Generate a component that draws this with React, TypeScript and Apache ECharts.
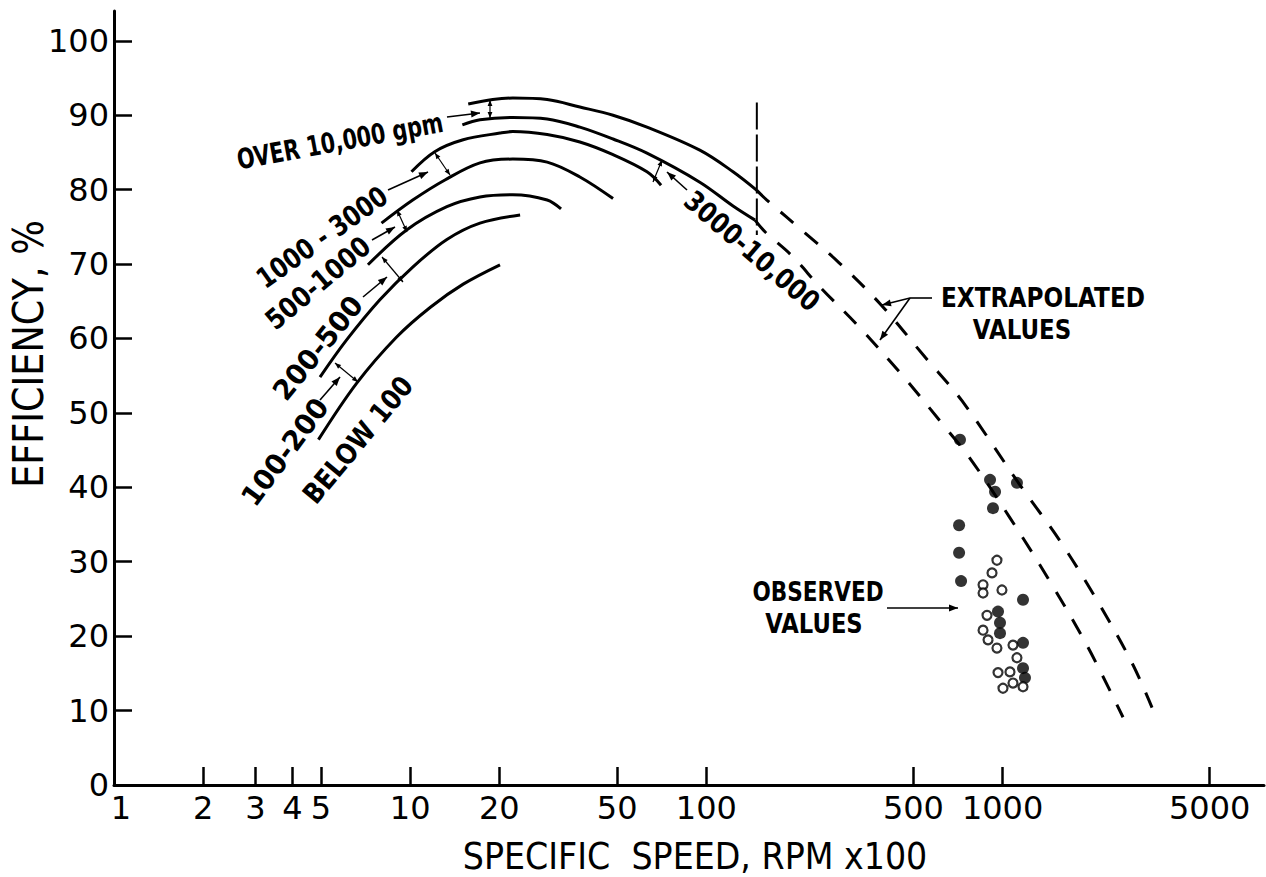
import { useEffect, useRef } from "react";
import * as echarts from "echarts";

const FONT = '"DejaVu Sans", "Liberation Sans", sans-serif';
const INK = "#000";

// Axis ticks and labels (specific speed on a log scale, efficiency in %)
const xTickValues = [2, 3, 4, 5, 10, 20, 50, 100, 500, 1000, 5000];
const xLabelValues = [1, 2, 3, 4, 5, 10, 20, 50, 100, 500, 1000, 5000];
const yTickValues = [10, 20, 30, 40, 50, 60, 70, 80, 90, 100];
const yLabelValues = [0, 10, 20, 30, 40, 50, 60, 70, 80, 90, 100];

// Efficiency curves, [specific speed, efficiency %], one per capacity class
const over10000 = [
  [15.7, 91.5], [19, 92.1], [22.2, 92.3], [29, 92.1], [37.4, 91.1],
  [48.4, 90.0], [63, 88.4], [95, 85.3], [123, 82.4], [148, 79.9],
];
const from3000to10000 = [
  [15, 88.7], [17.2, 89.4], [22.2, 89.7], [29, 89.5], [37.4, 88.4],
  [48.4, 86.8], [63, 84.9], [95, 81.0], [123, 77.8], [146, 75.9],
];
const from1000to3000 = [
  [10.1, 82.4], [12.1, 85.1], [15.1, 86.7], [20.1, 87.6], [22.2, 87.8],
  [29, 87.4], [37.4, 86.4], [48.4, 84.7], [63, 82.4], [70.3, 80.6],
];
const from500to1000 = [
  [8.0, 75.5], [10.2, 78.6], [13.1, 81.3], [17.2, 83.6], [22.2, 84.1],
  [29, 83.7], [37.4, 81.7], [48.4, 78.8],
];
const from200to500 = [
  [7.2, 69.9], [9.75, 74.6], [13.3, 77.7], [17.2, 79.0], [22.2, 79.3],
  [29, 78.6], [32.3, 77.4],
];
const from100to200 = [
  [4.96, 54.8], [6.1, 59.8], [7.9, 65.2], [10.2, 69.6], [13.3, 73.3],
  [17.2, 75.5], [23.5, 76.6],
];
const below100 = [
  [4.9, 46.4], [6.6, 54.0], [9.0, 60.2], [11.7, 64.2], [15.1, 67.3], [20.1, 69.9],
];

// Extrapolated continuations of the two largest classes
const extrapolatedUpper = [
  [148, 79.9], [160, 78.6], [215, 74.2], [280, 70.2], [389, 64.5], [547, 57.5],
  [730, 51.6], [1145, 40.3], [1562, 32.8], [2099, 24.6], [2735, 16.4], [3195, 10.4],
];
const extrapolatedLower = [
  [146, 75.9], [158, 74.3], [194.5, 71.1], [242, 66.9], [325, 61.7], [457.5, 55.1],
  [639, 48.1], [776, 43.9], [1059, 35.9], [1468, 26.9], [1942, 18.5], [2550, 9.1],
];
const dataLimit = [[148, 91.7], [148, 73.9]];

// Observed values
const observedFilled = [
  [718, 46.4], [907, 41.0], [943, 39.4], [928, 37.2], [1118, 40.6], [713, 34.9],
  [713, 31.2], [724, 27.4], [1172, 24.9], [965, 23.3], [980, 21.8], [980, 20.4],
  [1172, 19.1], [1172, 15.7], [1190, 14.4],
];
const observedOpen = [
  [957, 30.2], [921, 28.5], [859, 26.9], [995, 26.2], [859, 25.8], [886, 22.8],
  [859, 20.8], [893, 19.5], [1084, 18.8], [957, 18.4], [1118, 17.1], [965, 15.1],
  [1059, 15.2], [1172, 13.2], [1003, 13.0], [1084, 13.7],
];

function curve(name: string, data: number[][], dashed = false) {
  return {
    name,
    type: "line",
    data,
    smooth: 0.35,
    symbol: "none",
    silent: true,
    lineStyle: { color: INK, width: 3, type: dashed ? [17, 15] : "solid", cap: "butt" },
  };
}

function head(x1: number, y1: number, x2: number, y2: number, len = 9, half = 3.5) {
  const a = Math.atan2(y2 - y1, x2 - x1);
  const bx = x2 - len * Math.cos(a);
  const by = y2 - len * Math.sin(a);
  const px = -Math.sin(a) * half;
  const py = Math.cos(a) * half;
  return {
    type: "polygon",
    silent: true,
    shape: { points: [[x2, y2], [bx + px, by + py], [bx - px, by - py]] },
    style: { fill: INK },
  };
}

function leader(x1: number, y1: number, x2: number, y2: number) {
  return [
    { type: "line", silent: true, shape: { x1, y1, x2, y2 }, style: { stroke: INK, lineWidth: 1.6 } },
    head(x1, y1, x2, y2),
  ];
}

function dimension(x1: number, y1: number, x2: number, y2: number) {
  return [
    { type: "line", silent: true, shape: { x1, y1, x2, y2 }, style: { stroke: INK, lineWidth: 1.2 } },
    head(x2, y2, x1, y1, 6, 2.4),
    head(x1, y1, x2, y2, 6, 2.4),
  ];
}

function note(text: string, cx: number, cy: number, deg: number, size: number, sx: number, weight = "bold") {
  return {
    type: "text",
    silent: true,
    x: cx,
    y: cy,
    rotation: (deg * Math.PI) / 180,
    scaleX: sx,
    style: {
      text,
      x: 0,
      y: 0,
      align: "center",
      verticalAlign: "middle",
      fontSize: size,
      fontWeight: weight,
      fontFamily: FONT,
      fill: INK,
    },
  };
}

const graphics = [
  note("EFFICIENCY, %", 28, 354, 90, 42, 0.87, "normal"),
  note("SPECIFIC  SPEED, RPM x100", 695, 856, 0, 37, 0.9, "normal"),

  note("OVER 10,000 gpm", 340, 141, 10.5, 28, 0.74),
  ...leader(447, 117, 480, 113),
  ...dimension(490, 100, 490, 118),

  note("3000-10,000", 752, 251, -40.5, 28, 0.85),
  ...leader(687, 190, 667, 172),
  ...dimension(662, 160, 653, 182),

  note("1000 - 3000", 322, 237, 35.4, 28, 0.82),
  ...leader(388, 190, 428, 172),
  ...dimension(435, 153, 450, 175),

  note("500-1000", 318, 283, 40, 28, 0.86),
  ...leader(372, 240, 395, 227),
  ...dimension(397, 210, 407, 232),

  note("200-500", 318, 348, 51, 28, 0.97),
  ...leader(363, 297, 387, 277),
  ...dimension(382, 257, 403, 282),

  note("100-200", 285, 452, 53.5, 28, 0.98),
  ...leader(320, 400, 340, 377),
  ...dimension(335, 363, 358, 382),

  note("BELOW 100", 358, 440, 50.4, 28, 0.86),

  note("EXTRAPOLATED", 1043, 298, 0, 27, 0.86),
  note("VALUES", 1022, 330, 0, 27, 0.85),
  { type: "line", silent: true, shape: { x1: 932, y1: 298, x2: 910, y2: 298 }, style: { stroke: INK, lineWidth: 1.6 } },
  ...leader(910, 298, 882, 305),
  ...leader(910, 298, 880, 340),

  note("OBSERVED", 818, 592, 0, 27, 0.8),
  note("VALUES", 814, 624, 0, 27, 0.84),
  ...leader(887, 608, 958, 608),
];

const option = {
  animation: false,
  backgroundColor: "#fff",
  grid: { left: 114, right: 2, top: 11, bottom: 92, containLabel: false },
  xAxis: {
    type: "log",
    logBase: 10,
    min: 1,
    max: 7630,
    axisLine: { show: true, onZero: false, lineStyle: { color: INK, width: 3 } },
    axisTick: { show: true, inside: true, length: 18, customValues: xTickValues, lineStyle: { color: INK, width: 2.5 } },
    minorTick: { show: false },
    splitLine: { show: false },
    axisLabel: {
      customValues: xLabelValues,
      // the origin label is nudged right so it clears the "0" of the efficiency axis
      formatter: (v: number) => (Math.round(v) === 1 ? "{origin|1}" : String(Math.round(v))),
      rich: {
        origin: { fontSize: 32, fontFamily: FONT, color: INK, padding: [0, 0, 0, 14] },
      },
      color: INK,
      fontSize: 32,
      lineHeight: 24,
      fontFamily: FONT,
      margin: 11,
      hideOverlap: false,
    },
  },
  yAxis: {
    type: "value",
    min: 0,
    max: 104,
    axisLine: { show: true, lineStyle: { color: INK, width: 3 } },
    axisTick: { show: true, inside: true, length: 18, customValues: yTickValues, lineStyle: { color: INK, width: 2.5 } },
    splitLine: { show: false },
    axisLabel: {
      customValues: yLabelValues,
      color: INK,
      fontSize: 32,
      lineHeight: 22,
      fontFamily: FONT,
      margin: 5,
    },
  },
  series: [
    curve("OVER 10,000 gpm", over10000),
    curve("3000-10,000", from3000to10000),
    curve("1000-3000", from1000to3000),
    curve("500-1000", from500to1000),
    curve("200-500", from200to500),
    curve("100-200", from100to200),
    curve("BELOW 100", below100),
    curve("EXTRAPOLATED (upper)", extrapolatedUpper, true),
    curve("EXTRAPOLATED (lower)", extrapolatedLower, true),
    {
      name: "limit",
      type: "line",
      data: dataLimit,
      symbol: "none",
      silent: true,
      lineStyle: { color: INK, width: 2, type: [27, 5] },
    },
    {
      name: "OBSERVED (filled)",
      type: "scatter",
      data: observedFilled,
      symbol: "circle",
      symbolSize: 12,
      silent: true,
      itemStyle: { color: INK },
    },
    {
      name: "OBSERVED (open)",
      type: "scatter",
      data: observedOpen,
      symbol: "circle",
      symbolSize: 9,
      silent: true,
      itemStyle: { color: "#fff", borderColor: INK, borderWidth: 2.2 },
    },
  ],
  graphic: graphics,
};

export default function App() {
  const ref = useRef<HTMLDivElement>(null);
  useEffect(() => {
    if (!ref.current) return;
    const chart = echarts.init(ref.current, null, { renderer: "svg" });
    chart.setOption(option as any);
    return () => chart.dispose();
  }, []);
  return (
    <div
      ref={ref}
      style={{ position: "fixed", left: 0, top: 0, width: 1266, height: 877, background: "#fff" }}
    />
  );
}
